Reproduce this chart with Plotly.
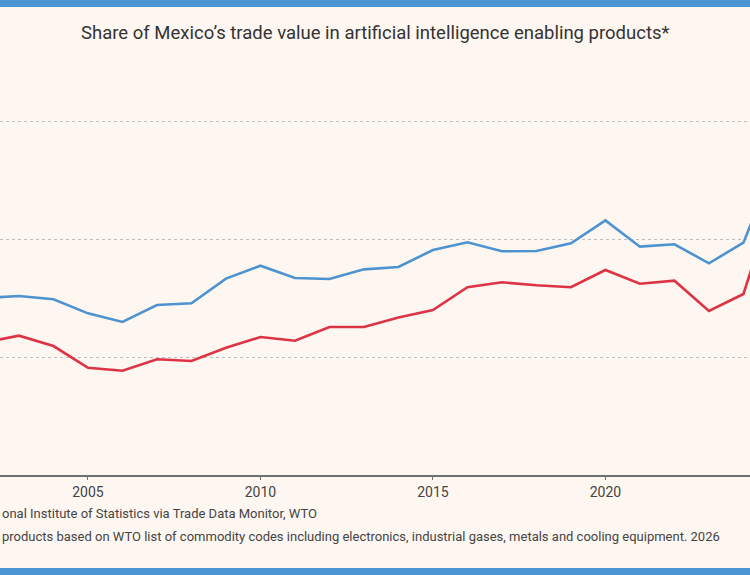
import plotly.graph_objects as go

years = list(range(2002, 2026))
blue_values = [15.0, 15.17, 14.89, 13.70, 12.97, 14.41, 14.55, 16.64, 17.74, 16.69, 16.61, 17.43,
               17.63, 19.07, 19.72, 18.96, 18.98, 19.64, 21.58, 19.35, 19.55, 17.94, 19.69, 27.0]
red_values = [11.23, 11.81, 10.93, 9.09, 8.84, 9.81, 9.66, 10.79, 11.69, 11.38, 12.54, 12.54,
              13.35, 13.98, 15.91, 16.33, 16.08, 15.91, 17.37, 16.21, 16.47, 13.90, 15.34, 24.5]
x_ticks = [2005, 2010, 2015, 2020]
y_grid = [10, 20, 30]

title_text = "Share of Mexico’s trade value in artificial intelligence enabling products*"
source_text = "onal Institute of Statistics via Trade Data Monitor, WTO"
note_text = ("products based on WTO list of commodity codes including electronics, "
             "industrial gases, metals and cooling equipment. 2026")

BG = "#FEF6F0"
BLUE = "#4C93CF"
RED = "#DC3345"
BAR = "#4A95D2"
FONT = "Roboto"

fig = go.Figure()
fig.add_trace(go.Scatter(x=years, y=blue_values, mode="lines",
                         line=dict(color=BLUE, width=2.6), showlegend=False, hoverinfo="skip"))
fig.add_trace(go.Scatter(x=years, y=red_values, mode="lines",
                         line=dict(color=RED, width=2.6), showlegend=False, hoverinfo="skip"))

top_px, bottom_px = 62, 475
plot_h = bottom_px - top_px

def py(pix):
    return (bottom_px - pix) / plot_h

fig.update_layout(
    width=750, height=575,
    paper_bgcolor=BG, plot_bgcolor=BG,
    margin=dict(l=0, r=0, t=top_px, b=575 - bottom_px),
    font=dict(family=FONT, color="#444444"),
    xaxis=dict(range=[2002.45, 2024.19], tickvals=x_ticks, showgrid=False,
               showline=True, linecolor="#6f6f6f", linewidth=1.5,
               ticks="outside", ticklen=3, tickcolor="#6f6f6f",
               tickfont=dict(size=14, color="#444444", family=FONT), zeroline=False),
    yaxis=dict(range=[0, 35], tickvals=y_grid, showticklabels=False,
               showgrid=True, gridcolor="#bdbdbd", griddash="3px,3px", gridwidth=1.3,
               zeroline=False, showline=False),
    shapes=[
        dict(type="rect", xref="paper", yref="paper", x0=0, x1=1, y0=py(7), y1=py(0),
             fillcolor=BAR, line=dict(width=0), layer="above"),
        dict(type="rect", xref="paper", yref="paper", x0=0, x1=1, y0=py(575), y1=py(568),
             fillcolor=BAR, line=dict(width=0), layer="above"),
    ],
    annotations=[
        dict(text=title_text, xref="paper", yref="paper", x=0.5, y=py(33),
             xanchor="center", yanchor="middle", showarrow=False,
             font=dict(size=18.5, color="#333333", family=FONT)),
        dict(text=source_text, xref="paper", yref="paper", x=0, y=py(513),
             xanchor="left", yanchor="middle", showarrow=False,
             font=dict(size=13, color="#444444", family=FONT)),
        dict(text=note_text, xref="paper", yref="paper", x=0, y=py(536),
             xanchor="left", yanchor="middle", showarrow=False,
             font=dict(size=13, color="#444444", family=FONT)),
    ],
)

fig.write_html("out.html", config={"displayModeBar": False},
               post_script="document.body.style.margin='0';document.body.style.padding='0';")
